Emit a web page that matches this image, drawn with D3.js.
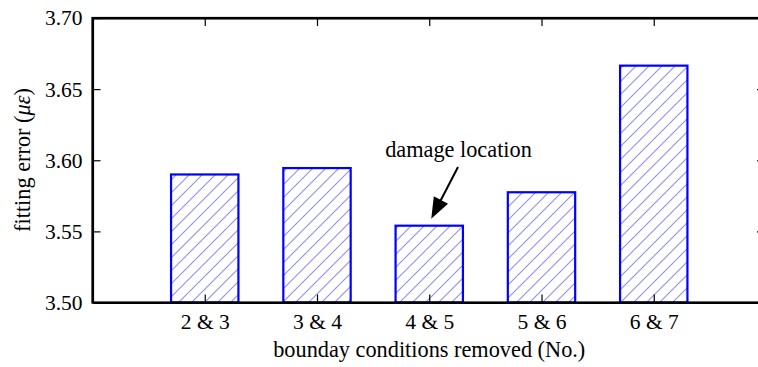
<!DOCTYPE html>
<html>
<head>
<meta charset="utf-8">
<script src="https://cdn.jsdelivr.net/npm/d3@7"></script>
<style>
  html, body { margin: 0; padding: 0; background: #fff; }
  svg { display: block; }
  svg text { font-family: "Liberation Serif", "Times New Roman", serif; fill: #000; }
</style>
</head>
<body>
<svg id="chart" width="758" height="367"></svg>
<script>
const categories = ["2 & 3", "3 & 4", "4 & 5", "5 & 6", "6 & 7"];
const positions = [2, 3, 4, 5, 6];
const values = [3.590, 3.5945, 3.554, 3.5775, 3.6665];
const yTicks = [3.50, 3.55, 3.60, 3.65, 3.70];
const xTitle = "bounday conditions removed (No.)";
const annotationText = "damage location";
const annotatedIndex = 2;

(function () {
const svg = d3.select("#chart");
const mLeft = 92.5, mRight = 766, mTop = 18, mBottom = 302.5;
const FONT = '"Liberation Serif", "Times New Roman", serif';

const x = d3.scaleLinear().domain([1, 7]).range([mLeft, mRight]);
const y = d3.scaleLinear().domain([3.50, 3.70]).range([mBottom, mTop]);
const barW = (x(2) - x(1)) * 0.6;

// hatch pattern
const defs = svg.append("defs");
const pat = defs.append("pattern")
  .attr("id", "hatch")
  .attr("patternUnits", "userSpaceOnUse")
  .attr("width", 13).attr("height", 13);
pat.append("path")
  .attr("d", "M-2,15 L15,-2 M-2,2 L2,-2 M11,15 L15,11")
  .attr("stroke", "#8f8ff5").attr("stroke-width", 1.1).attr("fill", "none");

// bars
svg.append("g").selectAll("rect")
  .data(values)
  .join("rect")
  .attr("x", (d, i) => x(positions[i]) - barW / 2)
  .attr("y", d => y(d))
  .attr("width", barW)
  .attr("height", d => mBottom - y(d))
  .attr("fill", "url(#hatch)")
  .attr("stroke", "#0000ff")
  .attr("stroke-width", 2.2);

// axes
const axisLeft = d3.axisLeft(y).tickValues(yTicks).tickFormat(d3.format(".2f")).tickSizeInner(-8).tickSizeOuter(0).tickPadding(10);
const gL = svg.append("g").attr("transform", `translate(${mLeft},0)`).call(axisLeft);
const axisRight = d3.axisRight(y).tickValues(yTicks).tickFormat("").tickSizeInner(-9).tickSizeOuter(0);
const gR = svg.append("g").attr("transform", `translate(${mRight},0)`).call(axisRight);
const axisBottom = d3.axisBottom(x).tickValues(positions).tickFormat((d, i) => categories[i]).tickSizeInner(-8).tickSizeOuter(0).tickPadding(11);
const gB = svg.append("g").attr("transform", `translate(0,${mBottom})`).call(axisBottom);
const axisTop = d3.axisTop(x).tickValues(positions).tickFormat("").tickSizeInner(-8).tickSizeOuter(0);
const gT = svg.append("g").attr("transform", `translate(0,${mTop})`).call(axisTop);

[gL, gR, gB, gT].forEach(g => {
  g.attr("font-family", FONT).attr("font-size", 21);
  g.selectAll(".domain").attr("stroke", "#000").attr("stroke-width", 2.2);
  g.selectAll(".tick line").attr("stroke", "#000").attr("stroke-width", 1.2);
  g.selectAll(".tick text").attr("fill", "#000").attr("font-family", FONT).attr("font-size", 21.5);
});
svg.append("rect").attr("x", mLeft).attr("y", mTop).attr("width", mRight - mLeft).attr("height", mBottom - mTop)
  .attr("fill", "none").attr("stroke", "#000").attr("stroke-width", 2.2);

// axis titles
svg.append("text")
  .attr("x", (mLeft + mRight) / 2).attr("y", 357)
  .attr("text-anchor", "middle").attr("font-size", 22.3)
  .attr("font-family", FONT)
  .text(xTitle);

const yt = svg.append("text")
  .attr("transform", "translate(30,160) rotate(-90)")
  .attr("text-anchor", "middle").attr("font-size", 22.3)
  .attr("font-family", FONT);
yt.append("tspan").text("fitting error (");
yt.append("tspan").attr("font-style", "italic").text("με");
yt.append("tspan").text(")");

// annotation
const ax = x(positions[annotatedIndex]);
const ay = y(values[annotatedIndex]);
svg.append("text")
  .attr("x", 458.5).attr("y", 157)
  .attr("text-anchor", "middle").attr("font-size", 22.3)
  .attr("font-family", FONT)
  .text(annotationText);

const tail = [458, 167];
const tip = [ax + 2, ay - 7];
const dx = tip[0] - tail[0], dy = tip[1] - tail[1];
const len = Math.hypot(dx, dy);
const ux = dx / len, uy = dy / len;
const headLen = 21, headHalf = 8;
const bx = tip[0] - ux * headLen, by = tip[1] - uy * headLen;
svg.append("line")
  .attr("x1", tail[0]).attr("y1", tail[1])
  .attr("x2", bx + ux * 2).attr("y2", by + uy * 2)
  .attr("stroke", "#000").attr("stroke-width", 2);
svg.append("path")
  .attr("d", `M${tip[0]},${tip[1]} L${bx - uy * headHalf},${by + ux * headHalf} L${bx + uy * headHalf},${by - ux * headHalf} Z`)
  .attr("fill", "#000");
})();
</script>
</body>
</html>
